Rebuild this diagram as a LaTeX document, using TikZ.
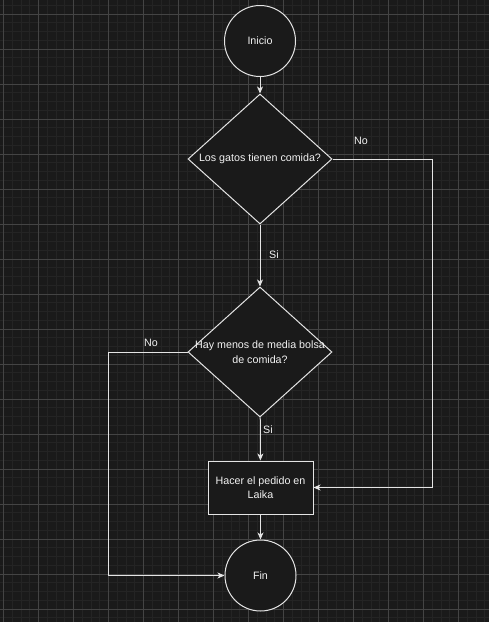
\documentclass[tikz,border=0pt]{standalone}
\usepackage{fontspec}
\setmainfont{Liberation Sans}
\usepackage{tikz}
\usetikzlibrary{positioning,calc,arrows.meta,shapes.geometric}
\definecolor{fcback}{HTML}{1A1A1A}
\definecolor{fcminor}{HTML}{242424}
\definecolor{fcmajor}{HTML}{444444}
\definecolor{fcline}{HTML}{E4E4E4}
\definecolor{fctext}{HTML}{F2F2F2}

\begin{document}
\begin{tikzpicture}[
  x=1pt, y=-1pt,
  fcfont/.style={font=\fontsize{10.7}{14.5}\selectfont, text=fctext},
  termnode/.style={circle, draw=fcline, fill=fcback, line width=1pt, minimum size=71pt, inner sep=0pt, fcfont},
  asknode/.style={diamond, draw=fcline, fill=fcback, line width=1pt, minimum width=144pt, minimum height=130pt, inner xsep=-6pt, inner ysep=0pt, shape aspect=1.1, align=center, fcfont},
  donode/.style={rectangle, draw=fcline, fill=fcback, line width=1pt, minimum width=105pt, minimum height=53pt, align=center, fcfont},
  fcarrow/.style={draw=fcline, line width=1pt, -{Stealth[length=7pt,width=6pt,inset=2pt]}},
  fclabel/.style={fcfont},
]
\useasboundingbox (0,0) rectangle (489,622);
\fill[fcback] (0,0) rectangle (489,622);
\foreach \k in {0,...,55} {
  \draw[fcminor, line width=0.6pt] ({3.3+8.75*\k},0) -- ({3.3+8.75*\k},622);
}
\foreach \k in {0,...,70} {
  \draw[fcminor, line width=0.6pt] (0,{5.25+8.75*\k}) -- (489,{5.25+8.75*\k});
}
\foreach \k in {0,...,13} {
  \draw[fcmajor, line width=0.7pt] ({3.3+35*\k},0) -- ({3.3+35*\k},622);
}
\foreach \k in {0,...,17} {
  \draw[fcmajor, line width=0.7pt] (0,{14+35*\k}) -- (489,{14+35*\k});
}

\node[termnode] (inicio) at (260,41) {Inicio};
\node[asknode] (gatos) at (260,159) {Los gatos tienen comida?};
\node[asknode] (bolsa) at (260,352) {Hay menos de media bolsa\\de comida?};
\node[donode] (pedido) at (260.5,487.5) {Hacer el pedido en\\Laika};
\node[termnode] (fin) at (260.5,575.5) {Fin};
\coordinate (gatosno) at (432,159);
\coordinate (bolsano) at (108,352);

\draw[fcarrow] (inicio) -- (gatos);
\draw[fcarrow] (gatos) -- (bolsa);
\draw[fcarrow] (gatos.east) -- (gatosno) |- (pedido.east);
\draw[fcarrow] (bolsa) -- (pedido);
\draw[fcarrow] (bolsa.west) -- (bolsano) |- (fin.west);
\draw[fcarrow] (pedido) -- (fin);

\node[fclabel] (gatossi) at (274,255) {Si};
\node[fclabel] (gatosnolbl) at (361,141) {No};
\node[fclabel] (bolsasi) at (268,430) {Si};
\node[fclabel] (bolsanolbl) at (151,343) {No};
\end{tikzpicture}
\end{document}
